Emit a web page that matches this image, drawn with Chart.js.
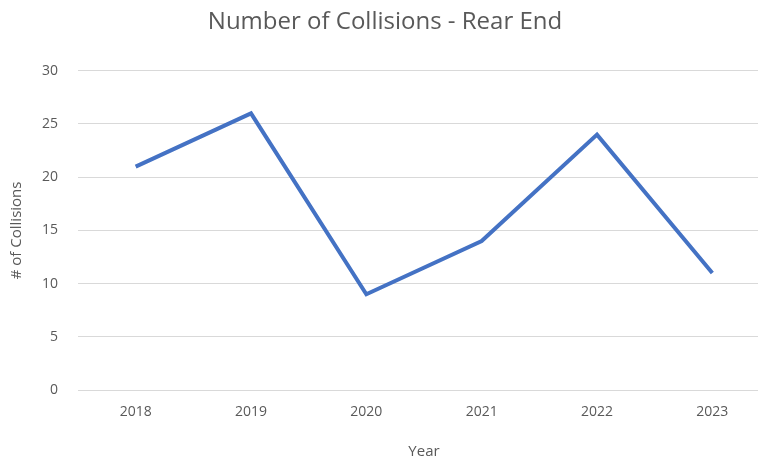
<!DOCTYPE html>
<html>
<head>
<meta charset="utf-8">
<script src="https://cdn.jsdelivr.net/npm/chart.js@4"></script>
<style>
    html, body { margin: 0; padding: 0; background: #fff; overflow: hidden; }
    #wrap { width: 770px; height: 464px; }
</style>
</head>
<body>
<div id="wrap"><canvas id="chart-collisions"></canvas></div>
<script>
const years = ['2018', '2019', '2020', '2021', '2022', '2023']
const rearEndCollisions = [21, 26, 9, 14, 24, 11]
const yTicks = [0, 5, 10, 15, 20, 25, 30]

const textColor = '#595959'
const fontFamily = "'Open Sans', 'Noto Sans', sans-serif"

new Chart(document.getElementById('chart-collisions'), {
    type: 'line',
    data: {
        labels: years,
        datasets: [{
            label: 'Rear End',
            data: rearEndCollisions,
            borderColor: '#4472C4',
            borderWidth: 4,
            pointRadius: 0,
            tension: 0,
            fill: false,
        }]
    },
    options: {
        responsive: true,
        maintainAspectRatio: false,
        animation: false,
        layout: { padding: { left: 0, right: 0, top: 8, bottom: 0 } },
        plugins: {
            legend: { display: false },
            tooltip: { enabled: false },
            title: {
                display: true,
                text: 'Number of Collisions - Rear End',
                color: textColor,
                font: { family: fontFamily, size: 24, weight: 'normal' },
                padding: { top: 0, bottom: 34 },
            },
        },
        scales: {
            x: {
                offset: true,
                grid: { display: false, drawTicks: false },
                border: { color: '#d9d9d9', width: 1 },
                ticks: { color: textColor, font: { family: fontFamily, size: 14 }, padding: 14, maxRotation: 0 },
                title: { display: true, text: 'Year', color: textColor, font: { family: fontFamily, size: 15 }, padding: { top: 10, bottom: 3 } },
                afterFit: s => { s.height = 74 },
            },
            y: {
                min: 0,
                max: 30,
                afterBuildTicks: s => { s.ticks = yTicks.map(v => ({ value: v })) },
                grid: { color: '#d9d9d9', drawTicks: false },
                border: { display: false },
                ticks: { color: textColor, font: { family: fontFamily, size: 14 }, padding: 20 },
                title: { display: true, text: '# of Collisions', color: textColor, font: { family: fontFamily, size: 15 }, padding: { top: 8, bottom: 0 } },
                afterFit: s => { s.width = 78 },
            }
        }
    }
})
</script>
</body>
</html>
